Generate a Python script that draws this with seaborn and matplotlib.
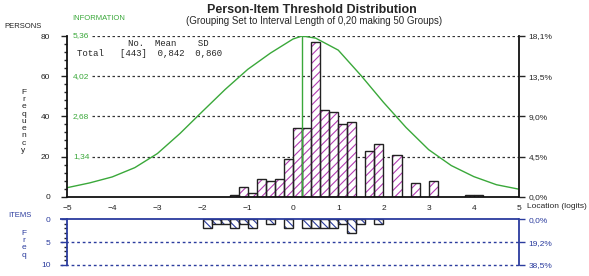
import numpy as np
import pandas as pd
import matplotlib
matplotlib.use('Agg')
import matplotlib.pyplot as plt
import seaborn as sns
from matplotlib.ticker import MultipleLocator

# person thresholds: bin centres (logits) and counts, bins of 0.20
person_loc = [-1.3, -1.1, -0.9, -0.7, -0.5, -0.3, -0.1, 0.1, 0.3, 0.5, 0.7,
              0.9, 1.1, 1.3, 1.7, 1.9, 2.3, 2.7, 3.1, 3.9, 4.1]
person_n = [1, 5, 2, 9, 8, 9, 19, 34, 34, 77, 43, 42, 36, 37, 23, 26, 21, 7, 8, 1, 1]

# item thresholds
item_loc = [-1.9, -1.7, -1.5, -1.3, -1.1, -0.9, -0.5, -0.1, 0.3, 0.5, 0.7,
            0.9, 1.1, 1.3, 1.5, 1.9]
item_n = [2, 1, 1, 2, 1, 2, 1, 2, 2, 2, 2, 2, 1, 3, 1, 1]

# test information curve
info_x = [-5, -4.5, -4, -3.5, -3, -2.5, -2, -1.5, -1, -0.5, 0, 0.2, 0.5, 1,
          1.5, 2, 2.5, 3, 3.5, 4, 4.5, 5]
info_y = [0.30, 0.46, 0.66, 0.97, 1.44, 2.11, 2.85, 3.58, 4.25, 4.79, 5.26,
          5.36, 5.29, 4.89, 4.05, 3.15, 2.31, 1.57, 1.04, 0.67, 0.40, 0.25]
info_peak = 0.2

info_ticks = ['1,34', '2,68', '4,02', '5,36']
pct_top = ['0,0%', '4,5%', '9,0%', '13,5%', '18,1%']
pct_bot = ['0,0%', '19,2%', '38,5%']

persons = pd.DataFrame({'loc': person_loc, 'n': person_n})
items = pd.DataFrame({'loc': item_loc, 'n': item_n})
info = pd.DataFrame({'x': info_x, 'y': np.array(info_y) * 80 / 5.36})

sns.set_style('white')
plt.rcParams['font.family'] = ['Liberation Sans', 'DejaVu Sans']
plt.rcParams['hatch.linewidth'] = 0.8

GREEN = '#3aa83a'
PINK = '#b23db2'
BLUE = '#2b3c9e'
INK = '#222222'

fig = plt.figure(figsize=(5.89, 2.76), dpi=100)
ax = fig.add_axes([0.1138, 0.2873, 0.7674, 0.5822])
ax2 = fig.add_axes([0.1138, 0.0399, 0.7674, 0.1656])


def hist_layer(axis, df, hatch, hcol, edge):
    kw = dict(x='loc', weights='n', bins=50, binrange=(-5, 5), ax=axis)
    sns.histplot(data=df, fill=True, facecolor='white', edgecolor=hcol,
                 hatch=hatch, linewidth=0, alpha=1, **kw)
    sns.histplot(data=df, fill=False, color=edge, edgecolor=edge,
                 linewidth=1.0, **kw)
    for p in list(axis.patches):
        if p.get_height() == 0:
            p.remove()


# ---- persons panel
for yv in [20, 40, 60, 80]:
    ax.hlines(yv, -4.45, 5, colors='#333333', linestyles=(0, (2, 2)), lw=0.9, zorder=0)
hist_layer(ax, persons, '////', PINK, INK)
sns.lineplot(data=info, x='x', y='y', ax=ax, color=GREEN, lw=1.0)
ax.vlines(info_peak, 0, 80, colors=GREEN, lw=1.0)

ax.set_xlim(-5, 5)
ax.set_ylim(0, 80)
ax.set_xlabel('')
ax.set_ylabel('')
ax.set_xticks(range(-5, 6))
ax.set_yticks([0, 20, 40, 60, 80])
ax.yaxis.set_minor_locator(MultipleLocator(4))
ax.tick_params(axis='both', labelsize=6, length=4, width=1, colors=INK,
               direction='out', pad=2)
ax.tick_params(axis='y', which='minor', length=2.5, width=1, left=True)
ax.tick_params(axis='y', pad=8)
sns.despine(ax=ax, top=True, right=False)
for s in ['left', 'bottom', 'right']:
    ax.spines[s].set_linewidth(1.3)
    ax.spines[s].set_color('#111111')

axr = ax.twinx()
axr.set_ylim(0, 80)
axr.set_yticks([0, 20, 40, 60, 80])
axr.set_yticklabels(pct_top)
axr.tick_params(axis='y', labelsize=6, length=4, width=1, pad=3)
for s in axr.spines.values():
    s.set_visible(False)

for yv, t in zip([20, 40, 60, 80], info_ticks):
    ax.text(-4.87, yv, t, color=GREEN, fontsize=6, va='center', ha='left')

fig.text(0.53, 0.965, 'Person-Item Threshold Distribution', ha='center',
         va='center', fontsize=9, fontweight='bold')
fig.text(0.533, 0.925, '(Grouping Set to Interval Length of 0,20 making 50 Groups)',
         ha='center', va='center', fontsize=7)
fig.text(0.008, 0.905, 'PERSONS', fontsize=5.5, va='center', color=INK)
fig.text(0.122, 0.932, 'INFORMATION', fontsize=5.5, va='center', color=GREEN)
fig.text(0.04, 0.56, '\n'.join('Frequency'), fontsize=6, va='center', ha='center',
         linespacing=1.05, color=INK)
fig.text(0.895, 0.25, 'Location (logits)', fontsize=6, va='center', ha='left')

mono = dict(family=['Liberation Mono', 'DejaVu Sans Mono'], fontsize=6.5)
fig.text(0.217, 0.843, 'No.  Mean    SD', va='center', **mono)
fig.text(0.131, 0.805, 'Total   [443]  0,842  0,860', va='center', **mono)

# ---- items panel
for yv in [5, 10]:
    ax2.hlines(yv, -5.15, 5, colors=BLUE, linestyles=(0, (2, 2)), lw=1.0,
               clip_on=False, zorder=0)
ax2.hlines(0, -5.15, 5, colors=BLUE, lw=1.3, clip_on=False)
hist_layer(ax2, items, '\\\\\\\\', BLUE, INK)
ax2.set_xlim(-5, 5)
ax2.set_ylim(10, 0)
ax2.set_xlabel('')
ax2.set_ylabel('')
ax2.set_xticks([])
ax2.set_yticks([0, 5, 10])
ax2.yaxis.set_minor_locator(MultipleLocator(1))
ax2.tick_params(axis='y', labelsize=6, length=4, width=1, colors=BLUE,
                labelcolor=BLUE, pad=8, left=True)
ax2.tick_params(axis='y', which='minor', length=2.5, width=1, left=True)
sns.despine(ax=ax2, top=True, bottom=True, right=False)
for s in ['left', 'right']:
    ax2.spines[s].set_color(BLUE)
    ax2.spines[s].set_linewidth(1.3)

ax2r = ax2.twinx()
ax2r.set_ylim(10, 0)
ax2r.set_yticks([0, 5, 10])
ax2r.set_yticklabels(pct_bot)
ax2r.tick_params(axis='y', labelsize=6, length=4, width=1, colors=BLUE,
                 labelcolor=BLUE, pad=3)
for s in ax2r.spines.values():
    s.set_visible(False)

fig.text(0.033, 0.22, 'ITEMS', fontsize=5.5, va='center', ha='center', color=BLUE)
fig.text(0.04, 0.115, '\n'.join('Freq'), fontsize=6, va='center', ha='center',
         linespacing=1.05, color=BLUE)

fig.savefig('out.png', dpi=100)
